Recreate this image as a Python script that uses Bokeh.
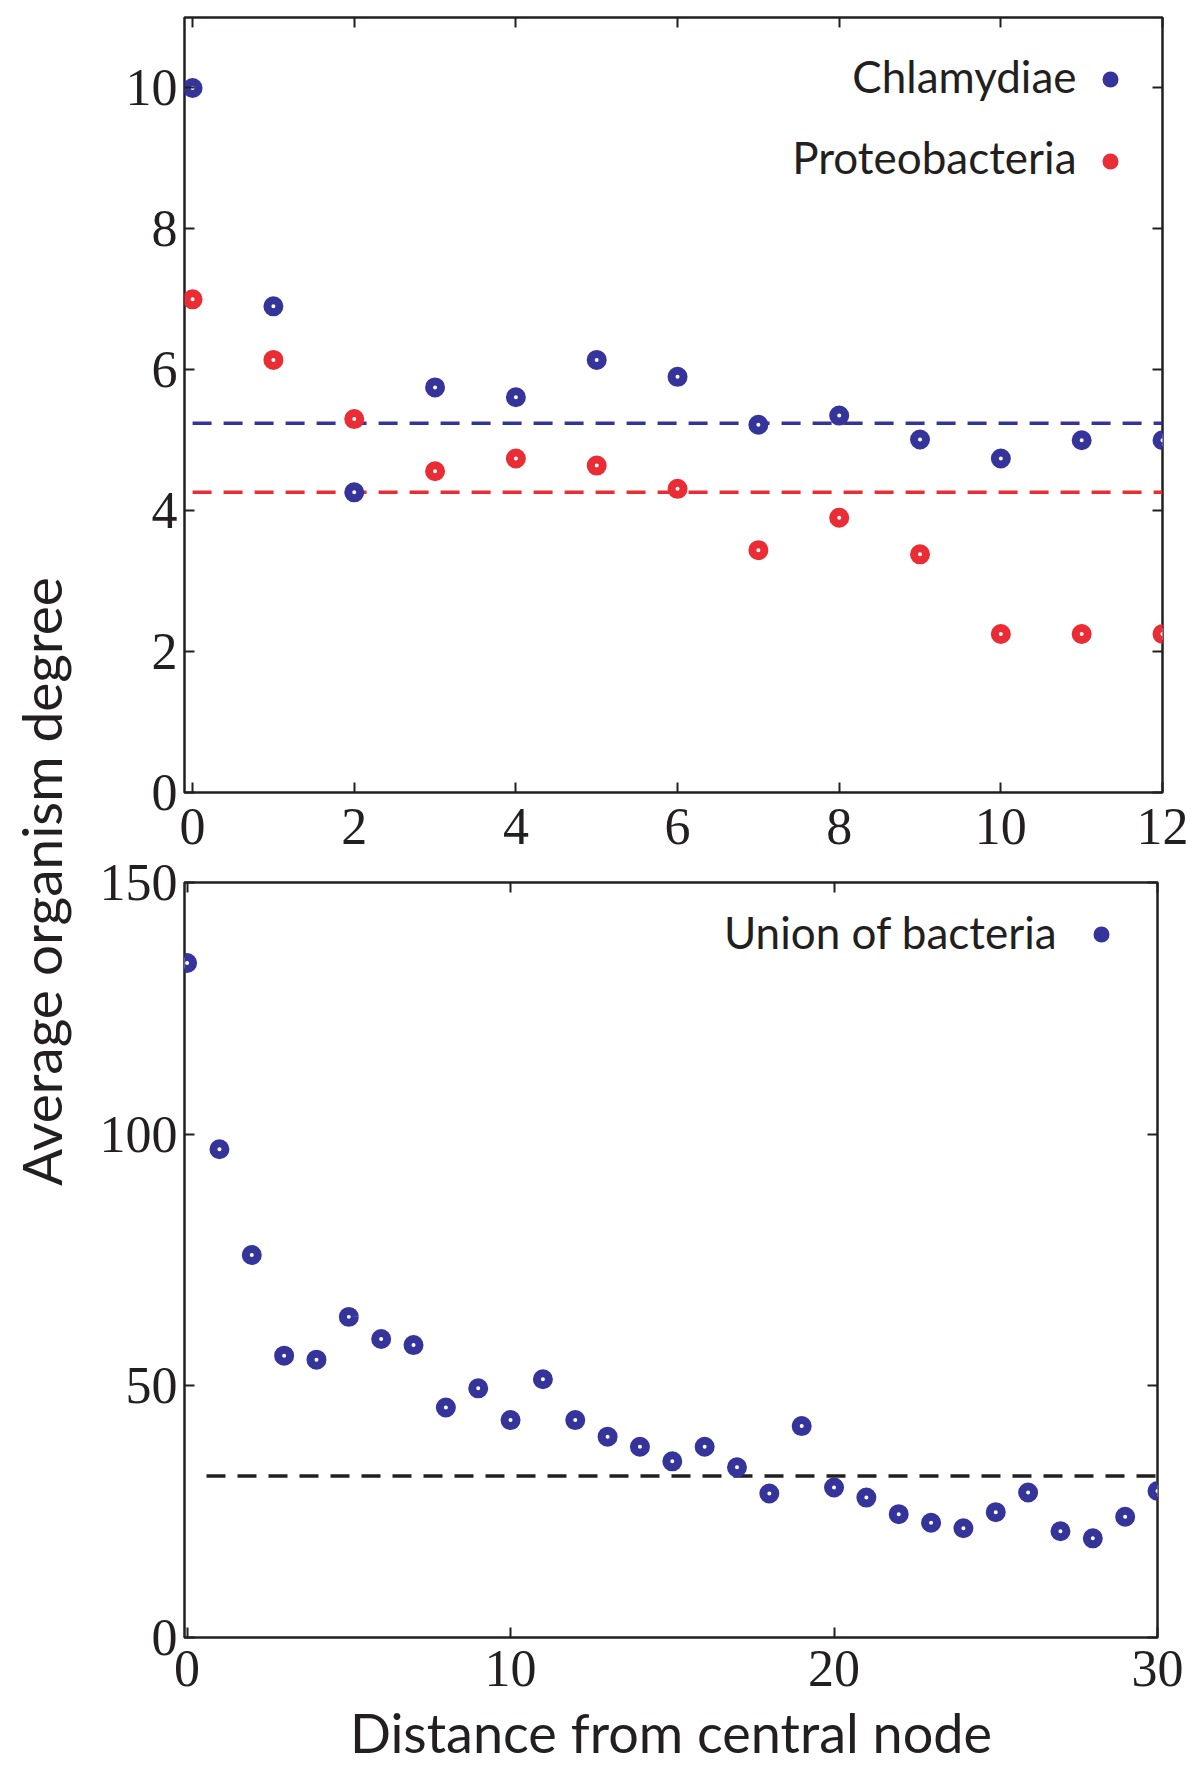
import math
from bokeh.plotting import figure
from bokeh.models import (ColumnDataSource, Legend, LegendItem, LinearAxis, Label,
                          FixedTicker, Range1d, CustomJSTickFormatter)
from bokeh.layouts import column, row
from bokeh.embed import file_html
from bokeh.resources import INLINE
from bokeh.core.properties import value

# ---------------- data ----------------
dist_top = [0, 1, 2, 3, 4, 5, 6, 7, 8, 9, 10, 11, 12]
chlamydiae = [10.0, 6.90, 4.26, 5.75, 5.61, 6.14, 5.90, 5.22, 5.35, 5.01, 4.74, 5.00, 5.00]
proteobacteria = [7.0, 6.14, 5.30, 4.56, 4.74, 4.64, 4.31, 3.44, 3.90, 3.38, 2.25, 2.25, 2.25]
chlamydiae_mean = 5.24
proteobacteria_mean = 4.26

dist_bottom = list(range(31))
union = [134.0, 97.0, 76.0, 56.0, 55.2, 63.7, 59.3, 58.1, 45.7, 49.5, 43.2, 51.3, 43.2,
         39.9, 37.9, 35.0, 37.9, 33.8, 28.6, 42.0, 29.8, 27.8, 24.5, 22.8, 21.7, 24.9,
         28.8, 21.1, 19.7, 24.0, 29.1]
union_mean = 32.1
union_line_start = 0.6

top_xticks = [0, 2, 4, 6, 8, 10, 12]
top_yticks = [0, 2, 4, 6, 8, 10]
bottom_xticks = [0, 10, 20, 30]
bottom_yticks = [0, 50, 100, 150]

legend_top_labels = ["Chlamydiae", "Proteobacteria"]
legend_bottom_label = "Union of bacteria"
x_label = "Distance from central node"
y_label = "Average organism degree"

# ---------------- styles ----------------
BLUE = "#34349a"
RED = "#ea2c35"
DARK = "#231f20"
SERIF = "Liberation Serif"
SANS = "Lato"
TICK_FS = "52px"
LEG_FS = "44px"
MSIZE = 12
MLW = 8
OVERLAP = 40


def style(p, xticks, yticks, x_standoff):
    p.outline_line_color = DARK
    p.outline_line_width = 2.5
    p.xgrid.visible = False
    p.ygrid.visible = False
    xa = p.below[0]
    ya = p.left[0]
    for ax, tk in ((xa, xticks), (ya, yticks)):
        ax.ticker = FixedTicker(ticks=tk)
        ax.axis_line_color = None
        ax.major_tick_in = 10
        ax.major_tick_out = 0
        ax.major_tick_line_color = DARK
        ax.major_tick_line_width = 2
        ax.minor_tick_line_color = None
        ax.major_label_text_font = SERIF
        ax.major_label_text_font_size = TICK_FS
        ax.major_label_text_color = DARK
    xa.major_label_standoff = x_standoff
    ya.major_label_standoff = 7
    for loc, tk in (("right", yticks), ("above", xticks)):
        ax = LinearAxis(ticker=FixedTicker(ticks=tk),
                        formatter=CustomJSTickFormatter(code="return ''"))
        ax.axis_line_color = None
        ax.major_tick_in = 10
        ax.major_tick_out = 0
        ax.major_tick_line_color = DARK
        ax.major_tick_line_width = 2
        ax.minor_tick_line_color = None
        ax.major_label_standoff = 0
        p.add_layout(ax, loc)
    return xa, ya


def add_text(p, text, x, y, size=LEG_FS, align="right"):
    p.add_layout(Label(x=x, y=y, x_units="screen", y_units="screen", text=text,
                       text_align=align, text_baseline="middle",
                       text_font=SANS, text_font_size=size, text_color=DARK))


# ---------------- top panel ----------------
top = figure(frame_width=978, frame_height=775,
             x_range=Range1d(-0.1, 12), y_range=Range1d(0, 11),
             output_backend="svg", toolbar_location=None,
             min_border_left=85, min_border_right=31, min_border_top=17, min_border_bottom=90)
style(top, top_xticks, top_yticks, 16)

src_top = ColumnDataSource(dict(x=dist_top, c=chlamydiae, p=proteobacteria,
                                cm=[chlamydiae_mean] * len(dist_top),
                                pm=[proteobacteria_mean] * len(dist_top)))
top.line("x", "cm", source=src_top, line_color=BLUE, line_width=3.5, line_dash="19 12")
top.line("x", "pm", source=src_top, line_color=RED, line_width=3.5, line_dash="19 12")
r_c = top.scatter("x", "c", source=src_top, marker="circle", size=MSIZE, fill_color="white",
                  line_color=BLUE, line_width=MLW)
r_p = top.scatter("x", "p", source=src_top, marker="circle", size=MSIZE, fill_color="white",
                  line_color=RED, line_width=MLW)

leg_top = Legend(items=[LegendItem(label=value(""), renderers=[r_c]),
                        LegendItem(label=value(""), renderers=[r_p])],
                 location=(916, 590), padding=0, margin=0, spacing=0,
                 label_height=82, glyph_width=20, label_standoff=0,
                 background_fill_alpha=0, border_line_color=None)
top.add_layout(leg_top, "center")
add_text(top, legend_top_labels[0], 892, 717)
add_text(top, legend_top_labels[1], 892, 636)

# ---------------- bottom panel ----------------
bottom = figure(frame_width=973, frame_height=755,
                x_range=Range1d(-0.08, 30), y_range=Range1d(0, 150),
                output_backend="svg", toolbar_location=None,
                min_border_left=86, min_border_right=35, min_border_top=OVERLAP,
                min_border_bottom=100, border_fill_alpha=0,
                styles={"margin-top": f"-{OVERLAP}px"})
bxa, bya = style(bottom, bottom_xticks, bottom_yticks, 13)
bxa.axis_label = x_label
bxa.axis_label_text_font = SANS
bxa.axis_label_text_font_size = "54px"
bxa.axis_label_text_font_style = "normal"
bxa.axis_label_text_color = DARK
bxa.axis_label_standoff = 11

src_b = ColumnDataSource(dict(x=dist_bottom, u=union))
bottom.line(x=[union_line_start, dist_bottom[-1]], y=[union_mean, union_mean],
            line_color=DARK, line_width=3.5, line_dash="19 12")
r_u = bottom.scatter("x", "u", source=src_b, marker="circle", size=MSIZE, fill_color="white",
                     line_color=BLUE, line_width=MLW)
leg_b = Legend(items=[LegendItem(label=value(""), renderers=[r_u])],
               location=(907, 662), padding=0, margin=0, spacing=0,
               label_height=82, glyph_width=20, label_standoff=0,
               background_fill_alpha=0, border_line_color=None)
bottom.add_layout(leg_b, "center")
add_text(bottom, legend_bottom_label, 873, 706)

# ---------------- y label strip ----------------
lab = figure(width=96, height=1762, x_range=Range1d(0, 1), y_range=Range1d(0, 1),
             output_backend="svg", toolbar_location=None,
             min_border_left=0, min_border_right=0, min_border_top=0, min_border_bottom=0)
lab.axis.visible = False
lab.grid.visible = False
lab.outline_line_color = None
lab.add_layout(Label(x=40, y=881, x_units="screen", y_units="screen", text=y_label,
                     angle=math.pi / 2, text_align="center", text_baseline="middle",
                     text_font=SANS, text_font_size="55px", text_color=DARK))

layout = row(lab, column(top, bottom))
open("out.html", "w").write(file_html(layout, INLINE))
